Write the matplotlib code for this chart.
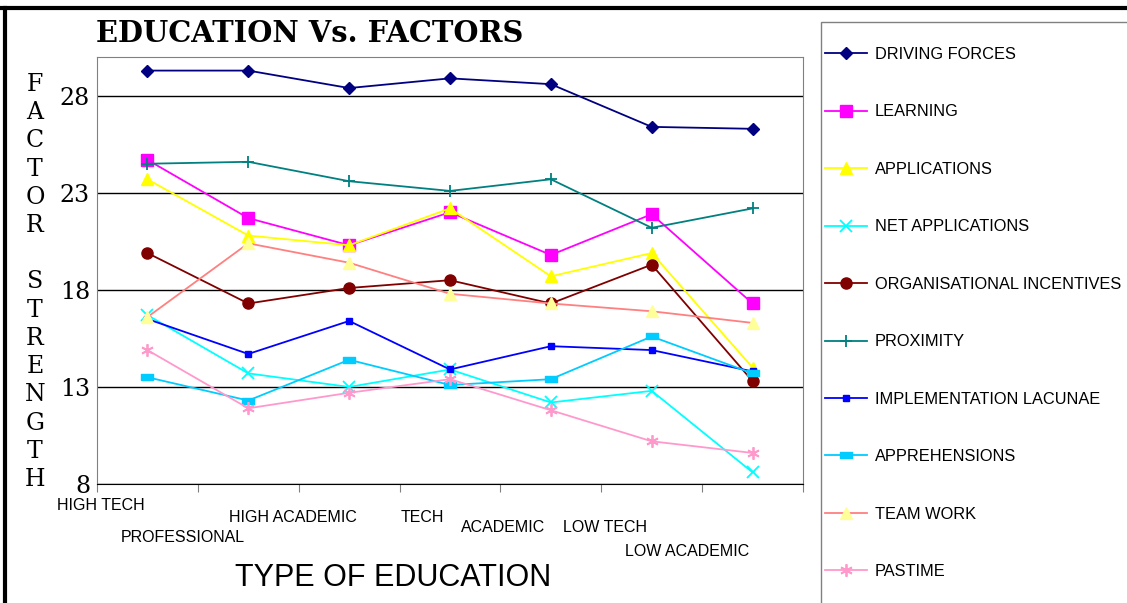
import matplotlib
matplotlib.use("Agg")
import matplotlib.pyplot as plt
from matplotlib.lines import Line2D
from matplotlib.patches import Rectangle
from matplotlib.path import Path

categories = ["HIGH TECH", "PROFESSIONAL", "HIGH ACADEMIC", "TECH", "ACADEMIC", "LOW TECH", "LOW ACADEMIC"]
driving_forces = [29.3, 29.3, 28.4, 28.9, 28.6, 26.4, 26.3]
learning = [24.7, 21.7, 20.3, 22.0, 19.8, 21.9, 17.3]
applications = [23.7, 20.8, 20.3, 22.2, 18.7, 19.9, 14.0]
net_applications = [16.7, 13.7, 13.0, 13.9, 12.2, 12.8, 8.6]
org_incentives = [19.9, 17.3, 18.1, 18.5, 17.3, 19.3, 13.3]
proximity = [24.5, 24.6, 23.6, 23.1, 23.7, 21.2, 22.2]
impl_lacunae = [16.5, 14.7, 16.4, 13.9, 15.1, 14.9, 13.8]
apprehensions = [13.5, 12.3, 14.4, 13.1, 13.4, 15.6, 13.7]
team_work = [16.6, 20.4, 19.4, 17.8, 17.3, 16.9, 16.3]
pastime = [14.9, 11.9, 12.7, 13.4, 11.8, 10.2, 9.6]
y_ticks = [8, 13, 18, 23, 28]

rect_marker = Path([(-1, -0.55), (1, -0.55), (1, 0.55), (-1, 0.55), (-1, -0.55)],
                   [Path.MOVETO, Path.LINETO, Path.LINETO, Path.LINETO, Path.CLOSEPOLY])

series = [
    ("DRIVING FORCES", driving_forces, dict(color="#000080", marker="D", ms=6, mfc="#000080", mec="#000080")),
    ("LEARNING", learning, dict(color="#FF00FF", marker="s", ms=8, mfc="#FF00FF", mec="#FF00FF")),
    ("APPLICATIONS", applications, dict(color="#FFFF00", marker="^", ms=9, mfc="#FFFF00", mec="#FFFF00")),
    ("NET APPLICATIONS", net_applications, dict(color="#00FFFF", marker="x", ms=8, mew=1.3, mec="#00FFFF")),
    ("ORGANISATIONAL INCENTIVES", org_incentives, dict(color="#800000", marker="o", ms=8, mfc="#800000", mec="#800000")),
    ("PROXIMITY", proximity, dict(color="#008080", marker="+", ms=9, mew=1.3, mec="#008080")),
    ("IMPLEMENTATION LACUNAE", impl_lacunae, dict(color="#0000FF", marker="s", ms=5, mfc="#0000FF", mec="#0000FF")),
    ("APPREHENSIONS", apprehensions, dict(color="#00CCFF", marker=rect_marker, ms=9, mfc="#00CCFF", mec="#00CCFF")),
    ("TEAM WORK", team_work, dict(color="#FF8080", marker="^", ms=9, mfc="#FFFF99", mec="#FFFF99")),
    ("PASTIME", pastime, dict(color="#FF99CC", marker=(6, 2, 0), ms=9, mew=1.3, mec="#FF99CC")),
]

fig = plt.figure(figsize=(11.27, 6.03), dpi=100)
ax = fig.add_axes([97 / 1127, 119 / 603, 706 / 1127, 427 / 603])

x = list(range(len(categories)))
handles = []
for name, vals, st in series:
    h, = ax.plot(x, vals, lw=1.3, label=name, **st)
    handles.append(h)

ax.set_xlim(-0.5, len(categories) - 0.5)
ax.set_ylim(8, 30)
ax.set_yticks(y_ticks)
ax.set_yticklabels([str(t) for t in y_ticks], fontfamily="DejaVu Serif", fontsize=17)
ax.tick_params(axis="y", length=0, pad=5)
ax.grid(axis="y", color="black", lw=1)
ax.set_axisbelow(True)

# category boundary ticks
ax.set_xticks([i - 0.5 for i in range(len(categories) + 1)])
ax.set_xticklabels([])
ax.tick_params(axis="x", length=6, direction="out", color="#808080")
for s in ["top", "right", "left"]:
    ax.spines[s].set_color("#808080")
ax.spines["bottom"].set_color("black")

# staggered category labels
label_dx = [-0.46, -0.65, -0.56, -0.27, -0.47, -0.46, -0.65]
label_dy = [21, 54, 33, 34, 43, 43, 67]
for i, cat in enumerate(categories):
    ax.annotate(cat, xy=(i + label_dx[i], 0), xycoords=("data", "axes fraction"),
                xytext=(0, -label_dy[i] * 0.72), textcoords="offset points",
                ha="center", va="center", fontsize=11.5, fontfamily="Liberation Sans",
                annotation_clip=False)

fig.text(393 / 1127, 1 - 578 / 603, "TYPE OF EDUCATION", ha="center", va="center",
         fontsize=22, fontfamily="Liberation Sans")

fig.text(96 / 1127, 1 - 34 / 603, "EDUCATION Vs. FACTORS", ha="left", va="center",
         fontsize=20.8, fontweight="bold", fontfamily="DejaVu Serif")

ylab = "FACTOR STRENGTH"
fig.text(35 / 1127, 1 - 282 / 603, "\n".join(ylab), ha="center", va="center",
         fontsize=17, fontfamily="DejaVu Serif", linespacing=1.29)

# figure border (top and left)
fig.add_artist(Line2D([0, 1], [1 - 8 / 603, 1 - 8 / 603], color="black", lw=3, transform=fig.transFigure))
fig.add_artist(Line2D([5 / 1127, 5 / 1127], [0, 1 - 8 / 603], color="black", lw=3, transform=fig.transFigure))

# legend frame
fig.add_artist(Rectangle((821 / 1127, -0.05), 0.5, 1 - 22 / 603 + 0.05, transform=fig.transFigure,
                         fill=False, edgecolor="#808080", lw=1))
leg = fig.legend(handles=handles, loc="upper left", bbox_to_anchor=(825 / 1127, 1 - 47 / 603),
                 frameon=False, prop=dict(family="Liberation Sans", size=11.8),
                 labelspacing=2.59, handlelength=2.55, handletextpad=0.5, borderaxespad=0,
                 borderpad=0, numpoints=1)

fig.savefig("out.png", dpi=100)
